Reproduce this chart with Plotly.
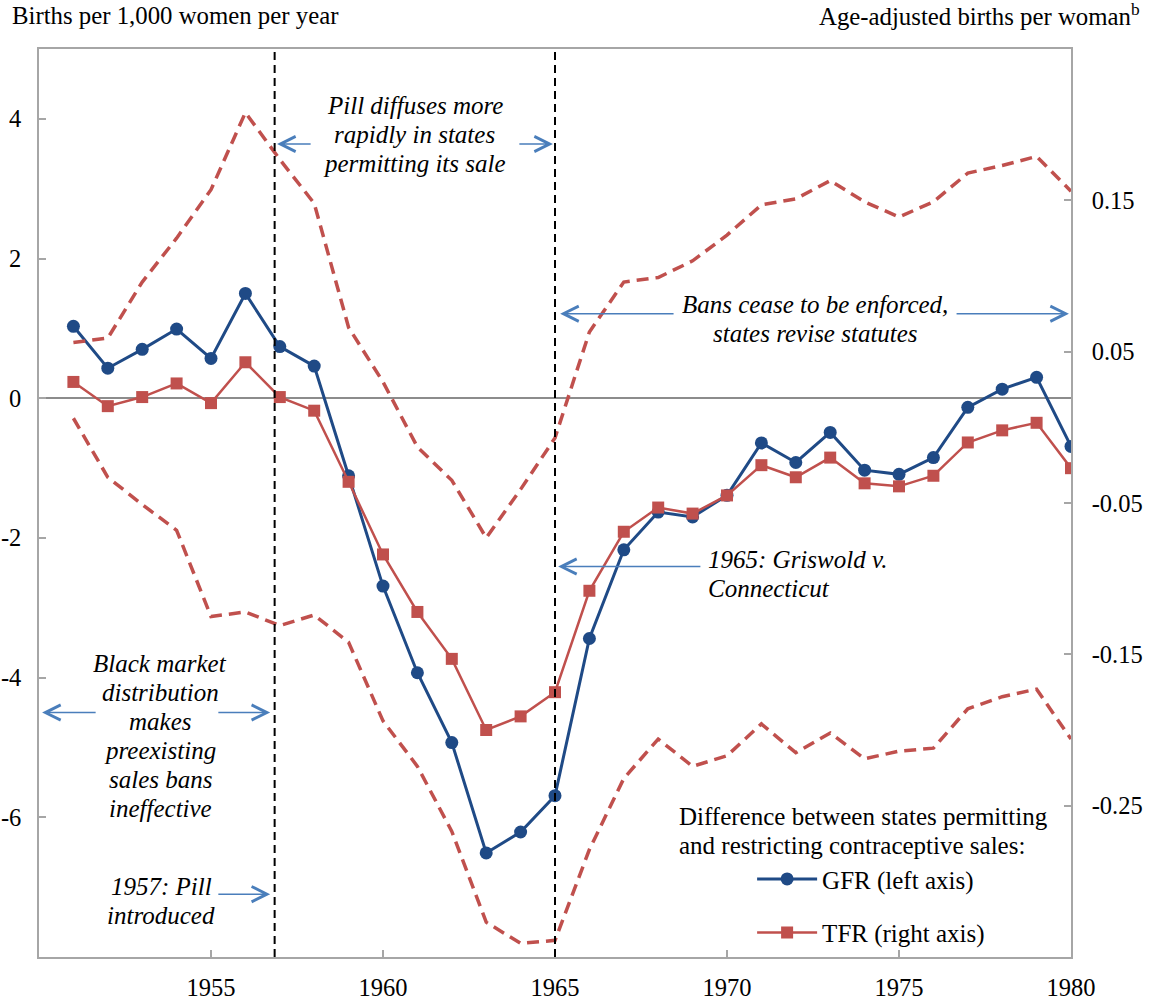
import plotly.graph_objects as go

years = list(range(1951, 1981))
gfr = [1.03, 0.43, 0.70, 0.99, 0.57, 1.50, 0.74, 0.46, -1.11, -2.69,
       -3.93, -4.93, -6.51, -6.21, -5.69, -3.44, -2.17, -1.63, -1.70, -1.39,
       -0.64, -0.92, -0.49, -1.03, -1.09, -0.85, -0.13, 0.13, 0.30, -0.69]
tfr = [0.030, 0.014, 0.020, 0.029, 0.016, 0.043, 0.020, 0.011, -0.036, -0.084,
       -0.122, -0.153, -0.200, -0.191, -0.175, -0.108, -0.069, -0.053, -0.057, -0.045,
       -0.025, -0.033, -0.020, -0.037, -0.039, -0.032, -0.010, -0.002, 0.003, -0.027]
tfr_upper = [0.056, 0.059, 0.096, 0.125, 0.157, 0.208, 0.177, 0.148, 0.066, 0.030,
             -0.013, -0.035, -0.073, -0.041, -0.007, 0.063, 0.096, 0.099, 0.110, 0.127,
             0.147, 0.151, 0.163, 0.149, 0.139, 0.149, 0.168, 0.173, 0.179, 0.156]
tfr_lower = [0.006, -0.033, -0.051, -0.068, -0.125, -0.122, -0.131, -0.124, -0.142, -0.194,
             -0.224, -0.267, -0.327, -0.341, -0.339, -0.279, -0.232, -0.206, -0.224, -0.217,
             -0.196, -0.215, -0.202, -0.219, -0.214, -0.212, -0.186, -0.178, -0.173, -0.206]

x_ticks = [1955, 1960, 1965, 1970, 1975, 1980]
left_ticks = [-6, -4, -2, 0, 2, 4]
left_labels = ["-6", "-4", "-2", "0", "2", "4"]
right_ticks = [-0.25, -0.15, -0.05, 0.05, 0.15]
right_labels = ["-0.25", "-0.15", "-0.05", "0.05", "0.15"]

BLUE = "#1F4A86"
RED = "#C0504D"
ARROW = "#4A7EBB"
GRAY = "#A6A6A6"
FONT = "Liberation Serif"
FS = 25
LINE_GAP = 29

fig = go.Figure()

fig.add_trace(go.Scatter(
    x=years, y=gfr, name="GFR (left axis)", yaxis="y", mode="lines+markers",
    line=dict(color=BLUE, width=3), marker=dict(symbol="circle", size=13, color=BLUE),
    legendgroup="g1"))
fig.add_trace(go.Scatter(
    x=years, y=tfr_upper, yaxis="y2", mode="lines", showlegend=False,
    line=dict(color=RED, width=3.5, dash="12px,7px")))
fig.add_trace(go.Scatter(
    x=years, y=tfr_lower, yaxis="y2", mode="lines", showlegend=False,
    line=dict(color=RED, width=3.5, dash="12px,7px")))
fig.add_trace(go.Scatter(
    x=years, y=tfr, name="TFR (right axis)", yaxis="y2", mode="lines+markers",
    line=dict(color=RED, width=2.5), marker=dict(symbol="square", size=12, color=RED),
    legendgroup="g2"))

# vertical event lines
for xv in [1956.85, 1965]:
    fig.add_shape(type="line", xref="x", yref="paper", x0=xv, x1=xv, y0=0, y1=1,
                  line=dict(color="black", width=2, dash="8px,5px"))


def block(x, y, lines, xref="x", yref="y", xanchor="center", italic=True):
    n = len(lines)
    for i, line in enumerate(lines):
        t = f"<i>{line}</i>" if italic else line
        fig.add_annotation(x=x, y=y, xref=xref, yref=yref, text=t, showarrow=False,
                           xanchor=xanchor, yanchor="middle",
                           yshift=-(i - (n - 1) / 2) * LINE_GAP,
                           font=dict(family=FONT, size=FS, color="black"))


def arrow(x_head, x_tail, y):
    fig.add_annotation(x=x_head, y=y, ax=x_tail, ay=y, xref="x", yref="y",
                       axref="x", ayref="y", text="", showarrow=True,
                       arrowhead=5, arrowsize=2.0, arrowwidth=1.5,
                       arrowcolor=ARROW, standoff=0)


block(1960.93, 3.78, ["Pill diffuses more", "rapidly in states", "permitting its sale"])
arrow(1956.92, 1957.94, 3.64)
arrow(1964.94, 1963.92, 3.64)

block(1972.56, 1.14, ["Bans cease to be enforced,", "states revise statutes"])
arrow(1965.15, 1968.49, 1.21)
arrow(1979.94, 1976.63, 1.21)

block(1969.39, -2.51, ["1965: Griswold v.", "Connecticut"], xanchor="left")
arrow(1965.09, 1969.27, -2.41)

block(1953.52, -4.84, ["Black market", "distribution", "makes", "preexisting",
                       "sales bans", "ineffective"])
arrow(1950.09, 1951.69, -4.5)
arrow(1956.72, 1955.17, -4.5)

block(1953.55, -7.2, ["1957: Pill", "introduced"])
arrow(1956.72, 1955.17, -7.1)

# axis titles
fig.add_annotation(x=-0.0281, y=1.0374, xref="paper", yref="paper",
                   text="Births per 1,000 women per year", showarrow=False,
                   xanchor="left", yanchor="middle",
                   font=dict(family=FONT, size=24.8, color="black"))
fig.add_annotation(x=1.0688, y=1.0374, xref="paper", yref="paper",
                   text="Age-adjusted births per woman<sup>b</sup>", showarrow=False,
                   xanchor="right", yanchor="middle",
                   font=dict(family=FONT, size=24.8, color="black"))

# legend heading
block(0.618, 0.139, ["Difference between states permitting",
                     "and restricting contraceptive sales:"],
      xref="paper", yref="paper", xanchor="left", italic=False)

axis_common = dict(showgrid=False, ticks="inside", ticklen=7, tickcolor=GRAY,
                   tickwidth=1.5, showline=True, linecolor=GRAY, linewidth=1.5,
                   automargin=False,
                   tickfont=dict(family=FONT, size=24.5, color="black"))

fig.update_layout(
    width=1157, height=1004,
    margin=dict(l=39, r=86, t=49, b=47),
    paper_bgcolor="white", plot_bgcolor="white",
    font=dict(family=FONT, size=FS, color="black"),
    xaxis=dict(range=[1950, 1980], tickvals=x_ticks, mirror=True,
               ticklabelstandoff=8, zeroline=False, **axis_common),
    yaxis=dict(range=[-8, 5], tickvals=left_ticks, ticktext=left_labels, mirror=True,
               ticklabelstandoff=11, zeroline=True, zerolinecolor="#8C8C8C",
               zerolinewidth=2, **axis_common),
    yaxis2=dict(range=[-0.35, 0.25], tickvals=right_ticks, ticktext=right_labels,
                overlaying="y", side="right", zeroline=False,
                ticklabelstandoff=14, **axis_common),
    legend=dict(x=0.691, y=0.111, xanchor="left", yanchor="top",
                bgcolor="rgba(0,0,0,0)", tracegroupgap=18, itemwidth=60,
                font=dict(family=FONT, size=FS, color="black")),
    showlegend=True,
)

fig.write_html("out.html", config={"displayModeBar": False},
               post_script="document.body.style.margin='0';")
